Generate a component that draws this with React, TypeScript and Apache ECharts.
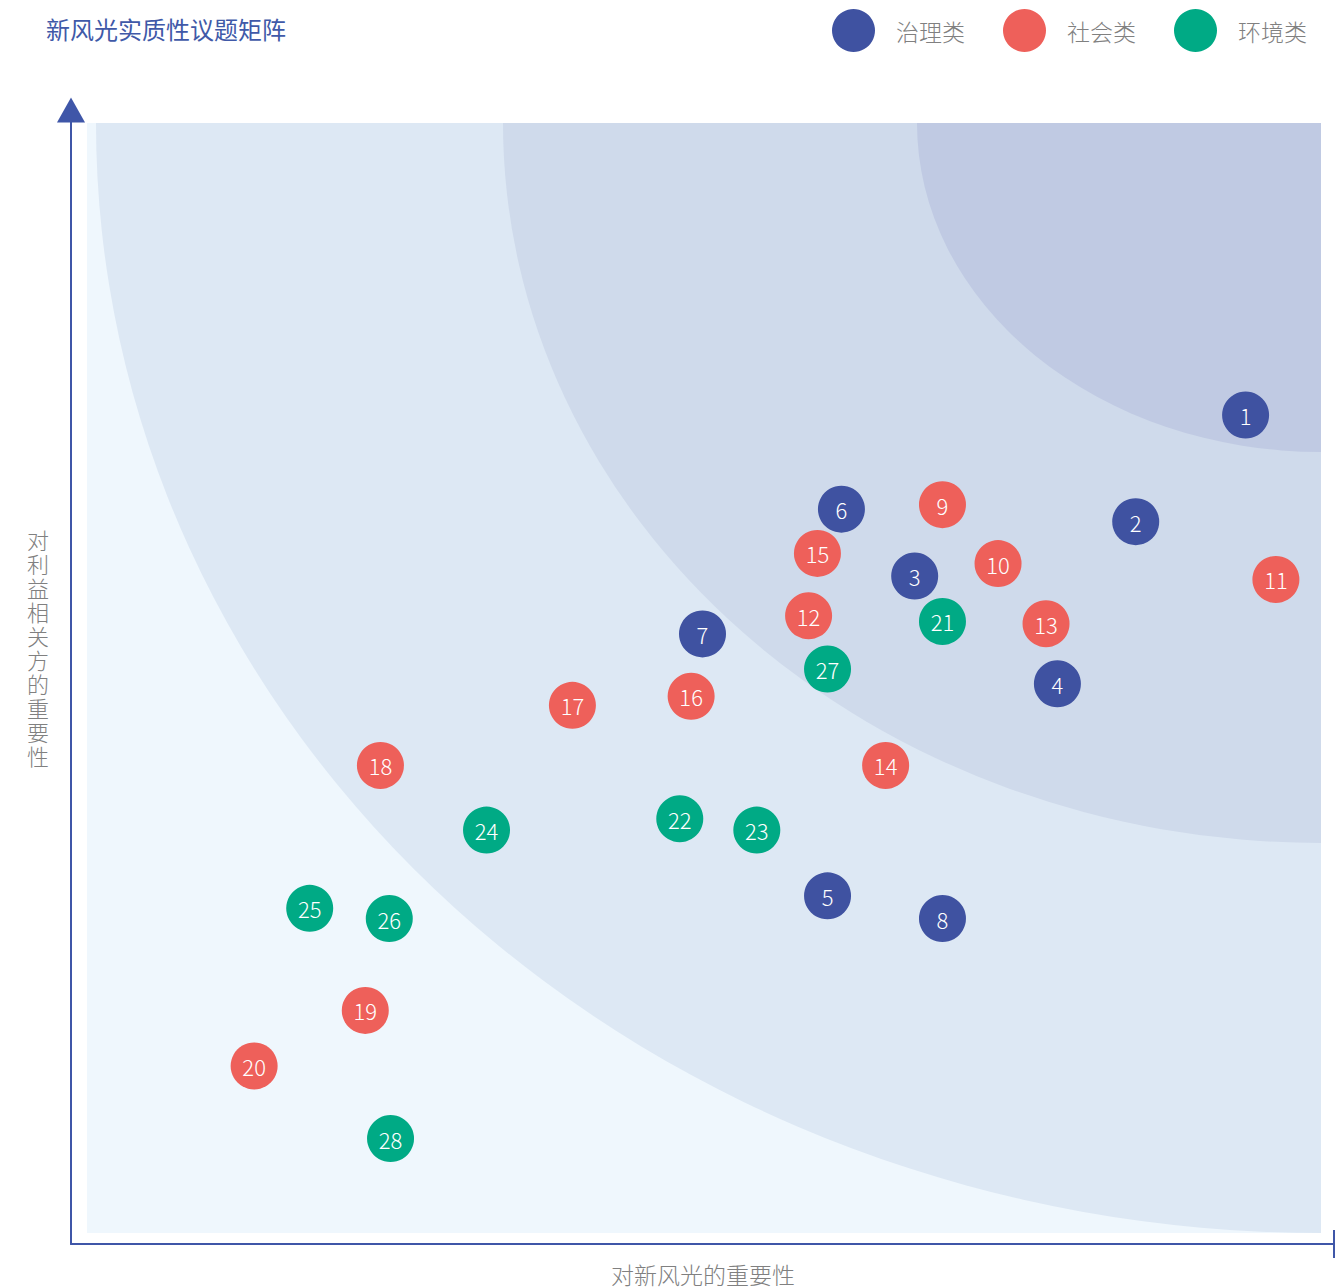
import React, { useEffect, useRef } from "react";
import * as echarts from "echarts";

const categories = ["治理类", "社会类", "环境类"];
const colors = ["#3f52a1", "#ee605a", "#00aa85"];

// [importance to company (x), importance to stakeholders (y), issue number]
const governance: [number, number, number][] = [
  [93.0, 73.1, 1],
  [84.3, 63.7, 2],
  [66.8, 58.9, 3],
  [78.1, 49.4, 4],
  [59.9, 30.7, 5],
  [61.0, 64.8, 6],
  [50.0, 53.8, 7],
  [69.0, 28.7, 8],
];
const social: [number, number, number][] = [
  [69.0, 65.2, 9],
  [73.4, 60.0, 10],
  [95.4, 58.6, 11],
  [58.4, 55.4, 12],
  [77.2, 54.7, 13],
  [64.5, 42.2, 14],
  [59.1, 60.9, 15],
  [49.1, 48.3, 16],
  [39.7, 47.5, 17],
  [24.5, 42.2, 18],
  [23.3, 20.6, 19],
  [14.5, 15.7, 20],
];
const environment: [number, number, number][] = [
  [69.0, 54.9, 21],
  [48.2, 37.5, 22],
  [54.3, 36.5, 23],
  [32.9, 36.5, 24],
  [18.9, 29.6, 25],
  [25.2, 28.7, 26],
  [59.9, 50.7, 27],
  [25.3, 9.3, 28],
];

const titleText = "新风光实质性议题矩阵";
const xName = "对新风光的重要性";
const yName = "对利益相关方的重要性";

echarts.graphic.registerShape(
  "qEllipse",
  echarts.graphic.extendPath("M0 0 L-100 0 A100 100 0 0 0 0 100 Z", {})
);

const FONT = '"Noto Sans CJK SC", "Noto Sans", sans-serif';

export default function App() {
  const ref = useRef<HTMLDivElement>(null);
  useEffect(() => {
    document.body.style.margin = "0";
    if (!ref.current) return;
    const chart = echarts.init(ref.current, undefined, { renderer: "svg" });
    const seriesData = [governance, social, environment];
    chart.setOption({
      animation: false,
      title: {
        text: titleText,
        left: 41,
        top: 11,
        textStyle: { color: "#4059a8", fontSize: 24, fontWeight: "normal", fontFamily: FONT },
      },
      legend: {
        data: categories,
        right: 24,
        top: 4,
        icon: "circle",
        itemWidth: 43,
        itemHeight: 43,
        itemGap: 38,
        textStyle: { color: "#808080", fontSize: 23, fontWeight: 300, fontFamily: FONT, padding: [0, 0, 0, 16] },
      },
      grid: { left: 71, right: 2, top: 110, bottom: 44 },
      xAxis: {
        type: "value",
        min: 0,
        max: 100,
        axisLine: {
          show: true,
          symbol: ["none", "rect"],
          symbolSize: [28, 2],
          lineStyle: { color: "#3f56a8", width: 2 },
        },
        axisTick: { show: false },
        axisLabel: { show: false },
        splitLine: { show: false },
      },
      yAxis: {
        type: "value",
        min: 0,
        max: 100,
        axisLine: {
          show: true,
          symbol: ["none", "triangle"],
          symbolSize: [28, 25],
          lineStyle: { color: "#3f56a8", width: 2 },
        },
        axisTick: { show: false },
        axisLabel: { show: false },
        splitLine: { show: false },
      },
      graphic: [
        { type: "rect", z: -10, shape: { x: 87, y: 123, width: 1234, height: 1110 }, style: { fill: "#eff7fd" } },
        { type: "qEllipse", z: -9, x: 1321, y: 123, scaleX: 12.25, scaleY: 11.1, style: { fill: "#dde8f4" } },
        { type: "qEllipse", z: -8, x: 1321, y: 123, scaleX: 8.18, scaleY: 7.2, style: { fill: "#cfdaeb" } },
        { type: "qEllipse", z: -7, x: 1321, y: 123, scaleX: 4.04, scaleY: 3.29, style: { fill: "#c0cae3" } },
        {
          type: "text",
          x: 38,
          y: 647,
          style: {
            text: yName.split("").join("\n"),
            fill: "#808080",
            font: `300 22px ${FONT}`,
            lineHeight: 24,
            align: "center",
            verticalAlign: "middle",
          },
        },
        {
          type: "text",
          x: 703,
          y: 1274,
          style: {
            text: xName,
            fill: "#808080",
            font: `300 23px ${FONT}`,
            align: "center",
            verticalAlign: "middle",
          },
        },
      ],
      series: categories.map((name, i) => ({
        name,
        type: "scatter",
        symbolSize: 47,
        itemStyle: { color: colors[i], opacity: 1 },
        label: {
          show: true,
          position: "inside",
          color: "#fff",
          fontSize: 22,
          fontWeight: 300,
          fontFamily: FONT,
          formatter: (p: any) => String(p.data[2]),
        },
        emphasis: { disabled: true },
        data: seriesData[i],
      })),
    });
    return () => chart.dispose();
  }, []);
  return <div ref={ref} style={{ width: 1336, height: 1288 }} />;
}
